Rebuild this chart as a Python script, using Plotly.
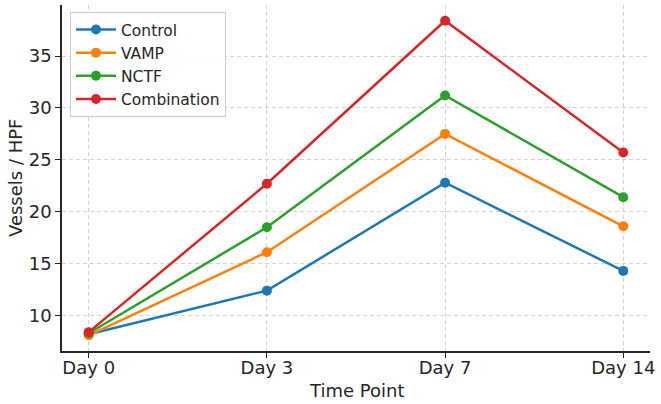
import plotly.graph_objects as go

time_points = ["Day 0", "Day 3", "Day 7", "Day 14"]
control = [8.2, 12.4, 22.8, 14.3]
vamp = [8.1, 16.1, 27.5, 18.6]
nctf = [8.3, 18.5, 31.2, 21.4]
combination = [8.4, 22.7, 38.4, 25.7]

series_names = ["Control", "VAMP", "NCTF", "Combination"]
series_values = [control, vamp, nctf, combination]
colors = ["#1f77b4", "#ff7f0e", "#2ca02c", "#d62728"]

fig = go.Figure()
for name, vals, col in zip(series_names, series_values, colors):
    fig.add_trace(go.Scatter(
        x=list(range(len(time_points))), y=vals, name=name, mode="lines+markers",
        line=dict(color=col, width=2.5), marker=dict(color=col, size=10),
    ))

all_vals = [v for s in series_values for v in s]
lo, hi = min(all_vals), max(all_vals)
pad = (hi - lo) * 0.05
n = len(time_points)

axis_common = dict(
    showgrid=True, gridcolor="#d3d3d3", griddash="4px,3px", gridwidth=0.8,
    showline=True, linecolor="#262626", linewidth=1.5,
    ticks="outside", ticklen=5, tickwidth=1.3, tickcolor="#262626",
    tickfont=dict(family="DejaVu Sans", size=18, color="#262626"),
    zeroline=False,
)

fig.update_layout(
    width=661, height=404,
    margin=dict(l=62, r=11, t=5, b=53, autoexpand=False),
    paper_bgcolor="white", plot_bgcolor="white",
    font=dict(family="DejaVu Sans", color="#262626"),
    xaxis=dict(
        **axis_common,
        tickmode="array", tickvals=list(range(n)), ticktext=time_points,
        range=[-0.15, (n - 1) + 0.15],
        ticklabelstandoff=-5,
    ),
    yaxis=dict(
        **axis_common,
        range=[lo - pad, hi + pad],
        tickmode="array", tickvals=[10, 15, 20, 25, 30, 35],
    ),
    legend=dict(
        x=0.0136, y=0.98, xanchor="left", yanchor="top",
        bgcolor="rgba(255,255,255,0.9)", bordercolor="#cccccc", borderwidth=1,
        font=dict(family="DejaVu Sans", size=15.5, color="#262626"),
        tracegroupgap=0, itemwidth=40,
    ),
    annotations=[
        dict(text="Time Point", xref="paper", yref="paper", x=0.5, y=0.0, yshift=-39,
             xanchor="center", yanchor="middle", showarrow=False,
             font=dict(family="DejaVu Sans", size=18, color="#262626")),
        dict(text="Vessels / HPF", xref="paper", yref="paper", x=0, xshift=-47, y=0.5,
             xanchor="center", yanchor="middle", textangle=-90, showarrow=False,
             font=dict(family="DejaVu Sans", size=18, color="#262626")),
    ],
    showlegend=True,
)

fig.write_html("out.html")
